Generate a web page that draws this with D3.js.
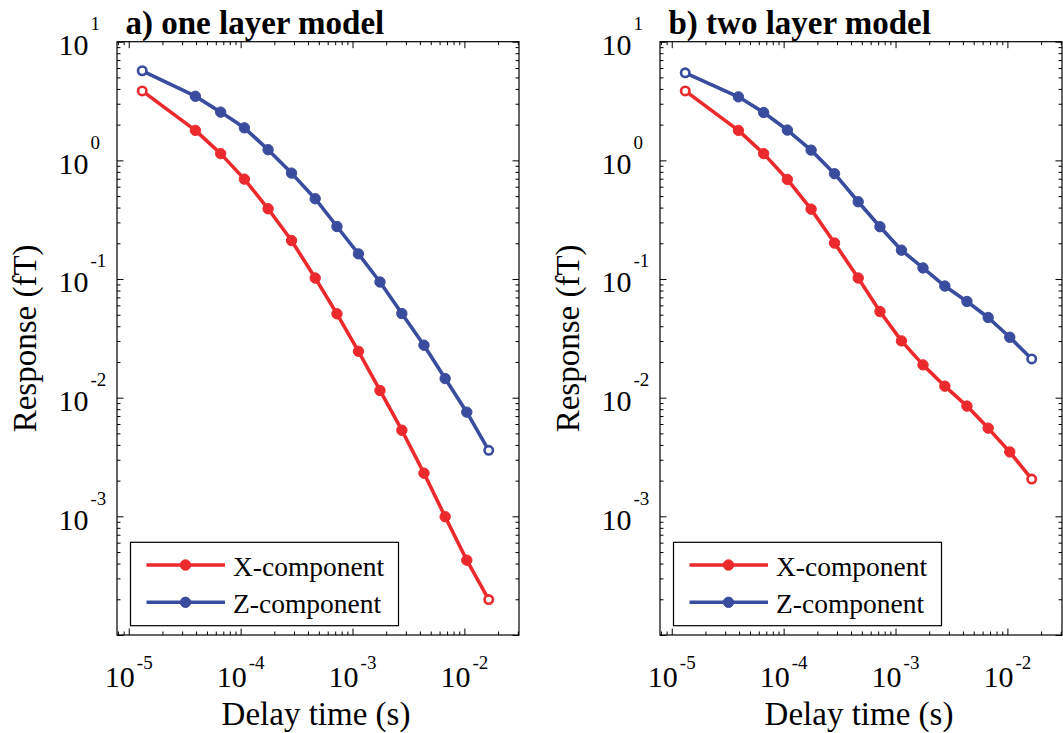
<!DOCTYPE html>
<html lang="en">
<head>
  <meta charset="UTF-8">
  <title>Response vs delay time</title>
  <script src="https://d3js.org/d3.v7.min.js"></script>
  <style>
    body { margin: 0; background: #fff; }
    svg { display: block; }
    text { font-family: "Liberation Serif", "Times New Roman", serif; fill: #000; }
  </style>
</head>
<body>
  <svg id="chart" width="1063" height="733"></svg>

  <script>
    // Data
    const delayTime = [1.32e-5, 3.94e-5, 6.63e-5, 1.08e-4, 1.76e-4, 2.85e-4, 4.64e-4, 7.26e-4,
                       1.13e-3, 1.76e-3, 2.76e-3, 4.35e-3, 6.73e-3, 1.05e-2, 1.65e-2];

    const oneLayerX = [3.85, 1.79, 1.14, 0.695, 0.391, 0.211, 0.102, 0.0509,
                       0.0246, 0.0115, 0.00532, 0.00231, 0.000993, 0.000427, 0.000199];
    const oneLayerZ = [5.69, 3.47, 2.55, 1.88, 1.23, 0.781, 0.475, 0.277,
                       0.163, 0.0944, 0.0512, 0.0277, 0.0145, 0.00755, 0.0036];

    const twoLayerX = [3.85, 1.79, 1.14, 0.691, 0.388, 0.201, 0.102, 0.0532,
                       0.0301, 0.0189, 0.0125, 0.0085, 0.00554, 0.00349, 0.00206];
    const twoLayerZ = [5.47, 3.43, 2.53, 1.80, 1.22, 0.772, 0.448, 0.276,
                       0.175, 0.124, 0.0873, 0.0647, 0.0474, 0.0323, 0.0212];

    const panelTitles = ['a) one layer model', 'b) two layer model'];
    const seriesNames = ['X-component', 'Z-component'];
    const seriesColors = ['#ec2a2e', '#3a4c9e'];

    const xMajor = [1e-5, 1e-4, 1e-3, 1e-2];
    const yMajor = [1e-4, 1e-3, 1e-2, 1e-1, 1, 10];
    const yLabelled = [1e-3, 1e-2, 1e-1, 1, 10];

    const xLabel = 'Delay time (s)';
    const yLabel = 'Response (fT)';

    // layout
    const plotTop = 41.7, plotBottom = 635;
    const panels = [
      { left: 117, right: 519, series: [oneLayerX, oneLayerZ], title: panelTitles[0] },
      { left: 660, right: 1062, series: [twoLayerX, twoLayerZ], title: panelTitles[1] }
    ];

    const svg = d3.select('#chart');

    // minor tick values (2..9 per decade)
    function minorTicks(lo, hi) {
      const out = [];
      for (let e = Math.floor(Math.log10(lo)); e <= Math.ceil(Math.log10(hi)); e++) {
        for (let m = 2; m <= 9; m++) {
          const v = m * Math.pow(10, e);
          if (v >= lo && v <= hi) out.push(v);
        }
      }
      return out;
    }

    const xDomain = [Math.pow(10, -5.105), Math.pow(10, -1.512)];
    const yDomain = [1e-4, 10];

    panels.forEach(function(p) {
      const x = d3.scaleLog().domain(xDomain).range([p.left, p.right]);
      const y = d3.scaleLog().domain(yDomain).range([plotBottom, plotTop]);
      const g = svg.append('g');

      // axes box
      g.append('rect')
        .attr('x', p.left).attr('y', plotTop)
        .attr('width', p.right - p.left).attr('height', plotBottom - plotTop)
        .attr('fill', 'none').attr('stroke', '#000').attr('stroke-width', 1.2);

      // ticks on all four sides, pointing in
      const xMinor = minorTicks(xDomain[0], xDomain[1]);
      const yMinor = minorTicks(yDomain[0], yDomain[1]);
      const tickAxes = [
        [d3.axisBottom(x), `translate(0,${plotBottom})`, xMajor, xMinor],
        [d3.axisTop(x), `translate(0,${plotTop})`, xMajor, xMinor],
        [d3.axisLeft(y), `translate(${p.left},0)`, yMajor, yMinor],
        [d3.axisRight(y), `translate(${p.right},0)`, yMajor, yMinor]
      ];
      tickAxes.forEach(function(a) {
        [[a[2], 6.5], [a[3], 3.5]].forEach(function(t) {
          const ax = a[0].tickValues(t[0]).tickSize(-t[1]).tickFormat('');
          g.append('g').attr('transform', a[1]).call(ax)
            .call(s => s.select('.domain').remove())
            .selectAll('line').attr('stroke', '#000').attr('stroke-width', 1);
        });
      });

      // x tick labels 10^n
      xMajor.forEach(function(v) {
        const t = g.append('text')
          .attr('x', x(v)).attr('y', 687)
          .attr('text-anchor', 'middle')
          .style('font-size', '30px');
        t.append('tspan').text('10');
        t.append('tspan').attr('dx', 2).attr('dy', -18.5)
          .style('font-size', '19px').text(Math.round(Math.log10(v)));
      });

      // y tick labels 10^n
      yLabelled.forEach(function(v) {
        const t = g.append('text')
          .attr('x', p.left - 58.5).attr('y', y(v) + 13.3)
          .style('font-size', '30px');
        t.append('tspan').text('10');
        t.append('tspan').attr('dx', 2).attr('dy', -25)
          .style('font-size', '19px').text(Math.round(Math.log10(v)));
      });

      // axis titles
      g.append('text')
        .attr('x', (p.left + p.right) / 2 - 2).attr('y', 725)
        .attr('text-anchor', 'middle')
        .style('font-size', '33px')
        .text(xLabel);

      g.append('text')
        .attr('transform', `translate(${p.left - 81.5},${(plotTop + plotBottom) / 2}) rotate(-90)`)
        .attr('text-anchor', 'middle')
        .style('font-size', '33px')
        .text(yLabel);

      // panel title
      g.append('text')
        .attr('x', p.left + 8.5).attr('y', 33.5)
        .style('font-size', '33px').style('font-weight', 'bold')
        .text(p.title);

      // series
      const line = d3.line().x((d, i) => x(delayTime[i])).y(d => y(d));
      p.series.forEach(function(vals, si) {
        const col = seriesColors[si];
        g.append('path').datum(vals)
          .attr('d', line)
          .attr('fill', 'none').attr('stroke', col)
          .attr('stroke-width', 3.6).attr('stroke-linejoin', 'round');

        g.selectAll(null).data(vals).enter().append('circle')
          .attr('cx', (d, i) => x(delayTime[i]))
          .attr('cy', d => y(d))
          .attr('r', (d, i) => (i === 0 || i === vals.length - 1) ? 4.2 : 5.2)
          .attr('fill', (d, i) => (i === 0 || i === vals.length - 1) ? '#fff' : col)
          .attr('stroke', col)
          .attr('stroke-width', (d, i) => (i === 0 || i === vals.length - 1) ? 2.6 : 1);
      });

      // legend
      const lx = p.left + 13.5, ly = 542.3;
      g.append('rect')
        .attr('x', lx).attr('y', ly).attr('width', 268).attr('height', 83.4)
        .attr('fill', '#fff').attr('stroke', '#000').attr('stroke-width', 1.2);

      seriesNames.forEach(function(name, si) {
        const rowY = ly + 22.7 + si * 37.3;
        g.append('line')
          .attr('x1', lx + 16).attr('x2', lx + 94.5)
          .attr('y1', rowY).attr('y2', rowY)
          .attr('stroke', seriesColors[si]).attr('stroke-width', 3.6);
        g.append('circle')
          .attr('cx', lx + 55).attr('cy', rowY).attr('r', 5.2)
          .attr('fill', seriesColors[si]).attr('stroke', seriesColors[si]);
        g.append('text')
          .attr('x', lx + 102.5).attr('y', rowY + 10.5)
          .style('font-size', '27.5px')
          .text(name);
      });
    });
  </script>
</body>
</html>
